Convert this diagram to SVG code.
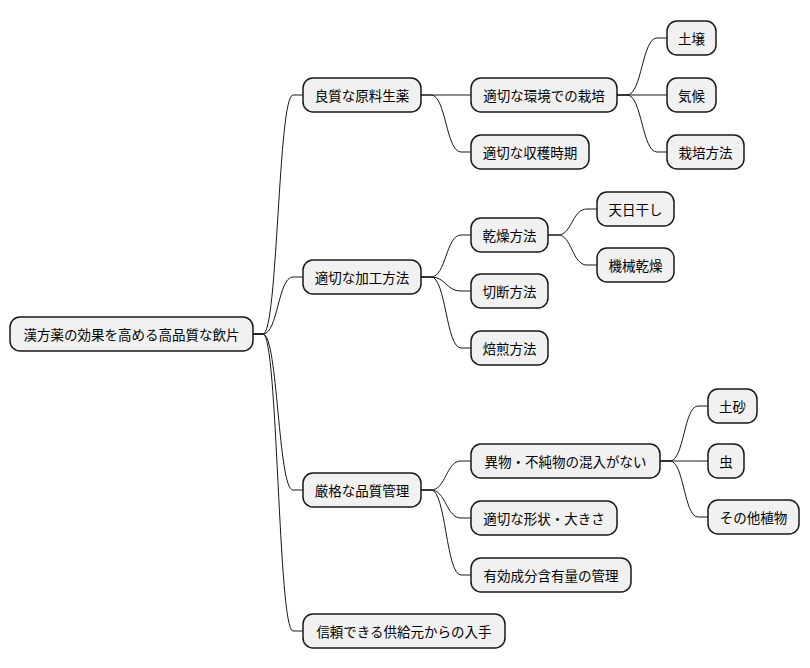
<svg xmlns="http://www.w3.org/2000/svg" width="810" height="668" viewBox="0 0 810 668">
<style>
.n rect{fill:#F1F1F1;stroke:#181818;stroke-width:1.5}
.n text{font-family:"Noto Sans CJK JP","Liberation Sans",sans-serif;font-size:13.5px;fill:#000;text-anchor:middle;dominant-baseline:central}
.c path{fill:none;stroke:#181818;stroke-width:1}
</style>
<rect width="810" height="668" fill="#fff"/>
<g class="c">
<path d="M253,334 h10 C278,334 278,95 293,95 H303"/>
<path d="M253,334 h10 C278,334 278,277 293,277 H303"/>
<path d="M253,334 h10 C278,334 278,490 293,490 H303"/>
<path d="M253,334 h10 C278,334 278,631 293,631 H303"/>
<path d="M421,95 h10 C446,95 446,95 461,95 H471"/>
<path d="M421,95 h10 C446,95 446,152 461,152 H471"/>
<path d="M617,95 h10 C642,95 642,38 657,38 H667"/>
<path d="M617,95 h10 C642,95 642,95 657,95 H667"/>
<path d="M617,95 h10 C642,95 642,152 657,152 H667"/>
<path d="M421,277 h10 C446,277 446,235 461,235 H471"/>
<path d="M421,277 h10 C446,277 446,291 461,291 H471"/>
<path d="M421,277 h10 C446,277 446,348 461,348 H471"/>
<path d="M548,235 h10 C572,235 572,209 587,209 H597"/>
<path d="M548,235 h10 C572,235 572,265 587,265 H597"/>
<path d="M421,490 h10 C446,490 446,461 461,461 H471"/>
<path d="M421,490 h10 C446,490 446,518 461,518 H471"/>
<path d="M421,490 h10 C446,490 446,575 461,575 H471"/>
<path d="M660,461 h10 C684,461 684,406 698,406 H708"/>
<path d="M660,461 h10 C684,461 684,461 698,461 H708"/>
<path d="M660,461 h10 C684,461 684,517 698,517 H708"/>
</g>
<g id="root" class="n"><rect x="10" y="317" width="243" height="34" rx="10"/><text x="131.5" y="334">漢方薬の効果を高める高品質な飲片</text></g>
<g id="a" class="n"><rect x="303" y="78" width="118" height="34" rx="10"/><text x="362" y="95">良質な原料生薬</text></g>
<g id="a1" class="n"><rect x="471" y="78" width="146" height="34" rx="10"/><text x="544" y="95">適切な環境での栽培</text></g>
<g id="a1a" class="n"><rect x="667" y="21" width="49" height="34" rx="10"/><text x="691.5" y="38">土壌</text></g>
<g id="a1b" class="n"><rect x="667" y="78" width="49" height="34" rx="10"/><text x="691.5" y="95">気候</text></g>
<g id="a1c" class="n"><rect x="667" y="135" width="77" height="34" rx="10"/><text x="705.5" y="152">栽培方法</text></g>
<g id="a2" class="n"><rect x="471" y="135" width="118" height="34" rx="10"/><text x="530" y="152">適切な収穫時期</text></g>
<g id="b" class="n"><rect x="303" y="260" width="118" height="34" rx="10"/><text x="362" y="277">適切な加工方法</text></g>
<g id="b1" class="n"><rect x="471" y="218" width="77" height="34" rx="10"/><text x="509.5" y="235">乾燥方法</text></g>
<g id="b1a" class="n"><rect x="597" y="192" width="77" height="34" rx="10"/><text x="635.5" y="209">天日干し</text></g>
<g id="b1b" class="n"><rect x="597" y="248" width="77" height="34" rx="10"/><text x="635.5" y="265">機械乾燥</text></g>
<g id="b2" class="n"><rect x="471" y="274" width="77" height="34" rx="10"/><text x="509.5" y="291">切断方法</text></g>
<g id="b3" class="n"><rect x="471" y="331" width="77" height="34" rx="10"/><text x="509.5" y="348">焙煎方法</text></g>
<g id="c" class="n"><rect x="303" y="473" width="118" height="34" rx="10"/><text x="362" y="490">厳格な品質管理</text></g>
<g id="c1" class="n"><rect x="471" y="444" width="189" height="34" rx="10"/><text x="565.5" y="461">異物・不純物の混入がない</text></g>
<g id="c1a" class="n"><rect x="708" y="389" width="49" height="34" rx="10"/><text x="732.5" y="406">土砂</text></g>
<g id="c1b" class="n"><rect x="708" y="444" width="36" height="34" rx="10"/><text x="726" y="461">虫</text></g>
<g id="c1c" class="n"><rect x="708" y="500" width="91" height="34" rx="10"/><text x="753.5" y="517">その他植物</text></g>
<g id="c2" class="n"><rect x="471" y="501" width="146" height="34" rx="10"/><text x="544" y="518">適切な形状・大きさ</text></g>
<g id="c3" class="n"><rect x="471" y="558" width="160" height="34" rx="10"/><text x="551" y="575">有効成分含有量の管理</text></g>
<g id="d" class="n"><rect x="303" y="614" width="202" height="34" rx="10"/><text x="404" y="631">信頼できる供給元からの入手</text></g>
</svg>
